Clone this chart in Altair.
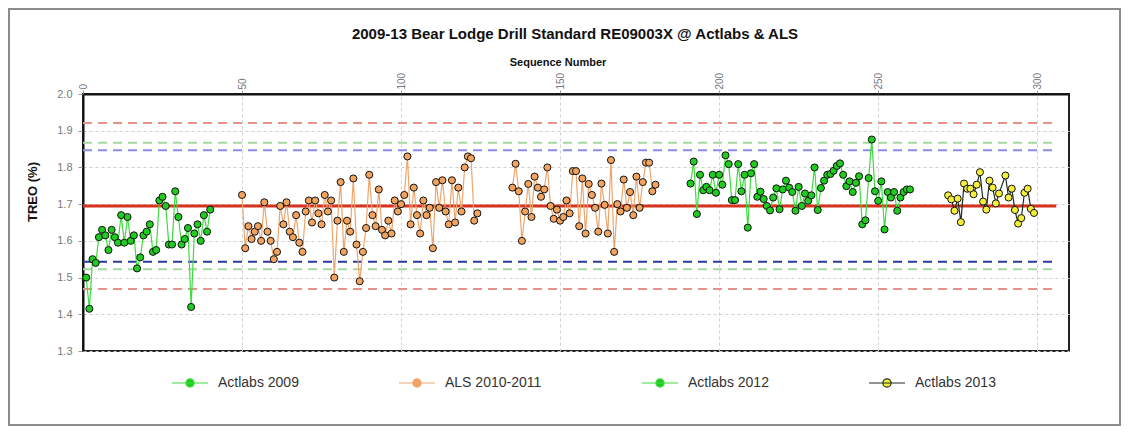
import altair as alt
import pandas as pd

TITLE = "2009-13 Bear Lodge Drill Standard RE09003X @ Actlabs & ALS"
X_TITLE = "Sequence Number"
Y_TITLE = "TREO (%)"

series_names = ["Actlabs 2009", "ALS 2010-2011", "Actlabs 2012", "Actlabs 2013"]
line_colors = ["#3fdc3f", "#eea66e", "#3fdc3f", "#1e2e1e"]
fill_colors = ["#1fcc1f", "#f2a35e", "#1fcc1f", "#f4ef3a"]

x_ticks = [0, 50, 100, 150, 200, 250, 300]
y_ticks = [1.3, 1.4, 1.5, 1.6, 1.7, 1.8, 1.9, 2.0]

a09_seq = list(range(1, 41))
a09_treo = [1.50, 1.415, 1.55, 1.54, 1.61, 1.63, 1.615, 1.575, 1.63, 1.61,
            1.595, 1.67, 1.595, 1.665, 1.60, 1.615, 1.525, 1.555, 1.615, 1.625,
            1.645, 1.57, 1.575, 1.71, 1.72, 1.695, 1.59, 1.59, 1.735, 1.665,
            1.59, 1.605, 1.635, 1.42, 1.62, 1.645, 1.60, 1.67, 1.625, 1.685]

als_seq = list(range(50, 125)) + list(range(135, 181))
als_treo = [1.725, 1.58, 1.64, 1.605, 1.625, 1.64, 1.60, 1.705, 1.625, 1.60,
            1.55, 1.57, 1.695, 1.645, 1.705, 1.625, 1.61, 1.67, 1.595, 1.57,
            1.68, 1.71, 1.65, 1.71, 1.675, 1.645, 1.725, 1.68, 1.71, 1.50,
            1.655, 1.76, 1.57, 1.655, 1.625, 1.77, 1.59, 1.49, 1.57, 1.635,
            1.78, 1.67, 1.64, 1.74, 1.63, 1.615, 1.655, 1.62, 1.71, 1.68,
            1.70, 1.725, 1.83, 1.645, 1.745, 1.67, 1.62, 1.71, 1.67, 1.69,
            1.58, 1.76, 1.69, 1.765, 1.68, 1.645, 1.765, 1.65, 1.745, 1.68,
            1.80, 1.83, 1.825, 1.655, 1.675,
            1.745, 1.81, 1.735, 1.60, 1.68, 1.755, 1.665, 1.775, 1.745, 1.72,
            1.74, 1.80, 1.695, 1.66, 1.685, 1.655, 1.665, 1.71, 1.675, 1.79,
            1.79, 1.64, 1.77, 1.62, 1.755, 1.725, 1.69, 1.625, 1.756, 1.698,
            1.62, 1.82, 1.57, 1.70, 1.68, 1.767, 1.69, 1.733, 1.67, 1.775,
            1.69, 1.76, 1.813, 1.813, 1.735, 1.753]

a12_seq = list(range(191, 261))
a12_treo = [1.756, 1.816, 1.673, 1.78, 1.738, 1.747, 1.738, 1.78, 1.731, 1.78,
            1.753, 1.833, 1.809, 1.711, 1.711, 1.809, 1.735, 1.78, 1.636, 1.784,
            1.809, 1.72, 1.734, 1.714, 1.695, 1.683, 1.718, 1.743, 1.686, 1.74,
            1.764, 1.745, 1.733, 1.682, 1.747, 1.695, 1.729, 1.709, 1.724, 1.80,
            1.684, 1.744, 1.764, 1.78, 1.782, 1.791, 1.804, 1.811, 1.78, 1.749,
            1.762, 1.733, 1.758, 1.776, 1.645, 1.656, 1.771, 1.876, 1.735, 1.709,
            1.762, 1.631, 1.733, 1.718, 1.733, 1.682, 1.718, 1.733, 1.74, 1.74]

a13_seq = [272, 273, 274, 275, 276, 277, 278, 279, 280, 281, 282, 283, 284, 285,
           286, 287, 288, 290, 291, 292, 293, 294, 295, 296, 297, 298, 299]
a13_treo = [1.724, 1.713, 1.682, 1.715, 1.651, 1.756, 1.742, 1.742, 1.727, 1.753,
            1.787, 1.707, 1.685, 1.764, 1.745, 1.702, 1.729, 1.778, 1.718, 1.742,
            1.684, 1.647, 1.662, 1.731, 1.742, 1.687, 1.676]

ref_mean = 1.695
ref_levels = [1.921, 1.469, 1.867, 1.523, 1.847, 1.543]
ref_colors = ["#e8928c", "#e8928c", "#a3d8a3", "#a3d8a3", "#8c8ce6", "#2a3a9c"]
ref_x_range = [0, 306]

# ---- build tables ----
rows = []
for name, seqs, vals in [(series_names[0], a09_seq, a09_treo),
                         (series_names[1], als_seq, als_treo),
                         (series_names[2], a12_seq, a12_treo),
                         (series_names[3], a13_seq, a13_treo)]:
    block = 0
    prev = None
    for s, v in zip(seqs, vals):
        if prev is not None and s - prev > 3:
            block += 1
        rows.append({"series": name, "seq": s, "treo": v, "seg": f"{name}_{block}"})
        prev = s
df = pd.DataFrame(rows)

ref_df = pd.DataFrame({"y": ref_levels, "c": ref_colors,
                       "x0": ref_x_range[0], "x1": ref_x_range[1]})
mean_df = pd.DataFrame({"y": [ref_mean], "x0": ref_x_range[0], "x1": ref_x_range[1]})
text_df = pd.DataFrame({"t": [TITLE], "xt": [X_TITLE], "yt": [Y_TITLE]})

W, H = 986, 257
FONT = "Liberation Sans"

x_scale = alt.Scale(domain=[0, 310], nice=False, zero=False)
y_scale = alt.Scale(domain=[1.3, 2.0], nice=False, zero=False)
x_axis = alt.Axis(orient="top", values=x_ticks, title=None, labelAngle=270,
                  labelAlign="left", labelBaseline="middle", labelFontSize=10,
                  labelColor="#777", labelFont=FONT, tickSize=4, tickColor="#999",
                  labelPadding=1, domainColor="#111", domainWidth=2,
                  grid=True, gridDash=[3, 3], gridColor="#cfcfcf")
y_axis = alt.Axis(values=y_ticks, title=None, format=".1f", labelFontSize=11,
                  labelColor="#777", labelFont=FONT, tickSize=5, tickColor="#999",
                  labelPadding=6, domainColor="#111", domainWidth=2,
                  grid=True, gridDash=[3, 3], gridColor="#cfcfcf")

def X(field):
    return alt.X(field, type="quantitative", scale=x_scale, axis=x_axis)

def Y(field):
    return alt.Y(field, type="quantitative", scale=y_scale, axis=y_axis)

dash = alt.Chart(ref_df).mark_rule(strokeDash=[9, 6], strokeWidth=2).encode(
    x=X("x0"), x2="x1", y=Y("y"), color=alt.Color("c:N", scale=None))
mean = alt.Chart(mean_df).mark_rule(color="#d8321e", strokeWidth=3).encode(
    x=X("x0"), x2="x1", y=Y("y"))

# legend symbol: a short line with a small circle in its middle
LEGEND_SYMBOL = ("M-1,0L1,0"
                 "M0.23,0A0.23,0.23 0 1,1 -0.23,0A0.23,0.23 0 1,1 0.23,0Z")

legend = alt.Legend(orient="none", legendX=88, legendY=270,
                    direction="horizontal", title=None,
                    symbolType=LEGEND_SYMBOL, symbolSize=1296,
                    symbolStrokeWidth=1.2, symbolOpacity=1, labelFont=FONT,
                    labelFontSize=14, labelColor="#333",
                    labelOffset=9, columnPadding=97, padding=0)

lines = alt.Chart(df).mark_line(strokeWidth=1.2).encode(
    x=X("seq"), y=Y("treo"), detail="seg:N", order="seq:Q",
    stroke=alt.Stroke("series:N", scale=alt.Scale(domain=series_names, range=line_colors),
                      legend=legend))

points = alt.Chart(df).mark_circle(size=50, opacity=1, stroke="#111", strokeWidth=1).encode(
    x=X("seq"), y=Y("treo"),
    fill=alt.Fill("series:N", scale=alt.Scale(domain=series_names, range=fill_colors),
                  legend=legend))

title = alt.Chart(text_df).mark_text(font=FONT, fontSize=15, fontWeight="bold",
                                     color="#111", align="center", baseline="alphabetic").encode(
    text="t:N", x=alt.value(W / 2 - 1), y=alt.value(-55))
xtitle = alt.Chart(text_df).mark_text(font=FONT, fontSize=11, fontWeight="bold",
                                      color="#111", align="center", baseline="alphabetic").encode(
    text="xt:N", x=alt.value(475), y=alt.value(-28))
ytitle = alt.Chart(text_df).mark_text(font=FONT, fontSize=13, fontWeight="bold", angle=270,
                                      color="#111", align="center", baseline="middle").encode(
    text="yt:N", x=alt.value(-50), y=alt.value(98))
frame = alt.Chart(text_df).mark_rect(fill="transparent", stroke="#8c8c8c", strokeWidth=2).encode(
    x=alt.value(-74), x2=alt.value(W + 51), y=alt.value(-85), y2=alt.value(H + 74))

chart = alt.layer(dash, mean, lines, points, title, xtitle, ytitle, frame).properties(
    width=W, height=H,
    autosize=alt.AutoSizeParams(type="none"),
    padding={"left": 75, "top": 86, "right": 52, "bottom": 75},
    background="white",
).configure_view(stroke="#222", strokeWidth=2)

chart.save("out.html", embed_options={"renderer": "svg", "actions": False})
